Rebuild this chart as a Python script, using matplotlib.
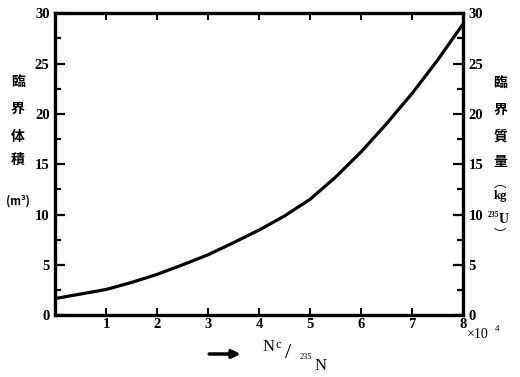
import matplotlib
matplotlib.use("Agg")
import matplotlib.pyplot as plt
from matplotlib.ticker import MultipleLocator

plt.rcParams['font.family'] = ['Liberation Serif', 'Noto Sans CJK JP', 'DejaVu Sans']

# Nc/235N (x10^4) vs critical volume (m3) / critical mass (kg 235U)
ratio = [0, 0.5, 1, 1.5, 2, 2.5, 3, 3.5, 4, 4.5, 5, 5.5, 6, 6.5, 7, 7.5, 8]
critical = [1.65, 2.1, 2.55, 3.25, 4.05, 5.0, 6.0, 7.2, 8.45, 9.85,
            11.5, 13.7, 16.2, 19.0, 22.0, 25.3, 28.9]
xticks = [1, 2, 3, 4, 5, 6, 7, 8]
yticks = [0, 5, 10, 15, 20, 25, 30]

left_label = ["臨", "界", "体", "積"]
right_label = ["臨", "界", "質", "量"]

fig = plt.figure(figsize=(5.2, 3.77), dpi=100)
ax = fig.add_axes([0.106, 0.164, 0.784, 0.801])

ax.plot(ratio, critical, color="black", lw=2.3, solid_capstyle="butt")

ax.set_xlim(0, 8)
ax.set_ylim(0, 30)
for s in ax.spines.values():
    s.set_linewidth(2.4)

ax.set_xticks(xticks)
ax.set_xticklabels([str(v) for v in xticks])
ax.set_yticks(yticks)
ax.set_yticklabels([str(v) for v in yticks])
ax.yaxis.set_minor_locator(MultipleLocator(2.5))

ax.tick_params(axis="y", which="major", direction="in", left=True, right=True,
               labelleft=True, labelright=True, length=7, width=1.6, pad=4,
               labelsize=10.5)
ax.tick_params(axis="y", which="minor", direction="in", left=True, right=True,
               length=4, width=1.6)
ax.tick_params(axis="x", which="major", direction="in", top=True, bottom=True,
               length=5, width=1.4, pad=2, labelsize=10.5)
for lab in ax.get_xticklabels() + ax.get_yticklabels():
    lab.set_fontweight("bold")

cjk = ["Noto Sans CJK JP"]

# vertical axis titles
left_y = [0.782, 0.711, 0.637, 0.576]
for y, ch in zip(left_y, left_label):
    fig.text(0.034, y, ch, ha="center", va="center", fontsize=10,
             fontweight="bold", family=cjk)
fig.text(0.034, 0.467, "(m³)", ha="center", va="center", fontsize=8,
         fontweight="bold", family=cjk)

right_y = [0.78, 0.708, 0.637, 0.570]
for y, ch in zip(right_y, right_label):
    fig.text(0.962, y, ch, ha="center", va="center", fontsize=10,
             fontweight="bold", family=cjk)
fig.text(0.962, 0.515, "︵", ha="center", va="center", fontsize=9, family=cjk)
fig.text(0.962, 0.48, "kg", ha="center", va="center", fontsize=9,
         fontweight="bold")
fig.text(0.949, 0.43, "235", ha="center", va="center", fontsize=5.5,
         fontweight="bold")
fig.text(0.968, 0.419, "U", ha="center", va="center", fontsize=10,
         fontweight="bold")
fig.text(0.962, 0.378, "︶", ha="center", va="center", fontsize=9, family=cjk)

# x axis label
ax.annotate("", xy=(0.468, 0.061), xytext=(0.397, 0.061),
            xycoords="figure fraction",
            arrowprops=dict(arrowstyle="-|>", color="black", lw=2.5,
                            mutation_scale=12))
fig.text(0.505, 0.08, "N", ha="left", va="center", fontsize=12)
fig.text(0.529, 0.086, "c", ha="left", va="center", fontsize=9)
fig.text(0.549, 0.062, "/", ha="left", va="center", fontsize=16)
fig.text(0.576, 0.053, "235", ha="left", va="center", fontsize=6)
fig.text(0.604, 0.03, "N", ha="left", va="center", fontsize=12)
fig.text(0.898, 0.112, "×10", ha="left", va="center", fontsize=10)
fig.text(0.951, 0.126, "4", ha="left", va="center", fontsize=6.5)

fig.savefig("out.png", dpi=100)
